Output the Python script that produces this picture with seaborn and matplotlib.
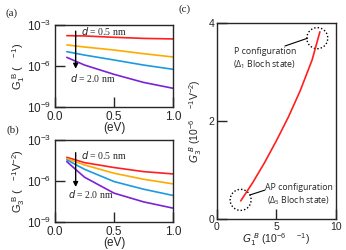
import numpy as np
import pandas as pd
import matplotlib
matplotlib.use("Agg")
import matplotlib.pyplot as plt
from matplotlib.patches import Ellipse
import seaborn as sns

# Data (log10 values for panels a and b)
energy = [0.1, 0.25, 0.5, 0.75, 1.0]
thickness = ["0.5", "1.0", "1.5", "2.0"]
g1_log = {
    "0.5": [-3.78, -3.80, -3.90, -3.98, -4.02],
    "1.0": [-4.46, -4.61, -4.83, -5.10, -5.34],
    "1.5": [-4.95, -5.20, -5.56, -5.93, -6.24],
    "2.0": [-5.37, -5.93, -6.61, -7.20, -7.63],
}
g3_log = {
    "0.5": [-4.27, -4.66, -5.02, -5.32, -5.49],
    "1.0": [-4.37, -4.83, -5.44, -5.88, -6.22],
    "1.5": [-4.46, -5.15, -6.05, -6.61, -7.07],
    "2.0": [-4.59, -5.73, -6.90, -7.54, -8.00],
}
g1_c = [2.0, 3.0, 4.0, 5.0, 6.0, 7.0, 8.0, 8.65]
g3_c = [0.37, 0.74, 1.15, 1.6, 2.08, 2.62, 3.25, 3.82]

colors = ["#ff1f1f", "#ffaa00", "#1b9ae2", "#7a22d4"]

sns.set_style("ticks")
plt.rcParams['font.family'] = ['Liberation Sans', 'DejaVu Sans']
plt.rcParams['mathtext.default'] = 'regular'
plt.rcParams['axes.linewidth'] = 1.0

fig = plt.figure(figsize=(3.46, 2.5), dpi=100)
ax_a = fig.add_axes([0.159, 0.572, 0.341, 0.328])
ax_b = fig.add_axes([0.159, 0.113, 0.341, 0.327])
ax_c = fig.add_axes([0.627, 0.124, 0.344, 0.784])


def long_df(d):
    rows = []
    for k in thickness:
        for x, v in zip(energy, d[k]):
            rows.append({"E": x, "G": 10 ** v, "d": k})
    return pd.DataFrame(rows)


def style_log(ax):
    ax.set_yscale("log")
    ax.set_xlim(0, 1)
    ax.set_ylim(1e-9, 1e-3)
    ax.set_xticks([0, 0.5, 1.0])
    ax.set_xticklabels(["0.0", "0.5", "1.0"])
    ax.set_yticks([1e-9, 1e-6, 1e-3])
    ax.yaxis.set_minor_locator(matplotlib.ticker.NullLocator())
    ax.tick_params(direction="in", length=7, width=1, labelsize=8.5, pad=3)
    ax.set_xlabel("(eV)", fontsize=8.5, labelpad=-1)
    leg = ax.get_legend()
    if leg is not None:
        leg.remove()


for ax, d in [(ax_a, g1_log), (ax_b, g3_log)]:
    sns.lineplot(data=long_df(d), x="E", y="G", hue="d", palette=colors,
                 linewidth=1.2, ax=ax)
    style_log(ax)

ax_a.set_ylabel("G$_1^{\\ B}$ (   $^{-1}$)", fontsize=8, labelpad=0)
ax_b.set_ylabel("G$_3^{\\ B}$ (   $^{-1}$V$^{-2}$)", fontsize=8, labelpad=0)

# annotations in (a) and (b)
for ax, top, bot, t1, t2 in [(ax_a, (0.175, 10 ** -3.45), (0.175, 10 ** -6.2),
                              (0.22, 10 ** -3.44), (0.127, 10 ** -6.9)),
                             (ax_b, (0.175, 10 ** -3.93), (0.175, 10 ** -6.45),
                              (0.22, 10 ** -4.1), (0.107, 10 ** -6.95))]:
    ax.annotate("", xy=bot, xytext=top,
                arrowprops=dict(arrowstyle="-|>", color="black", lw=1.0,
                                mutation_scale=7, shrinkA=0, shrinkB=0))
    ax.text(t1[0], t1[1], "$\\it{d}$ = 0.5 nm", fontsize=7, va="center",
            family="Liberation Serif")
    ax.text(t2[0], t2[1], "$\\it{d}$ = 2.0 nm", fontsize=7, va="center",
            family="Liberation Serif")

# panel (c)
sns.lineplot(x=g1_c, y=g3_c, color="#ff1f1f", linewidth=1.2, ax=ax_c)
ax_c.set_xlim(0, 10)
ax_c.set_ylim(0, 4)
ax_c.set_xticks([0, 5, 10])
ax_c.set_yticks([0, 2, 4])
ax_c.tick_params(direction="in", length=7, width=1, labelsize=7.5, pad=2)
ax_c.set_xlabel("$\\it{G}_1^{\\ B}$ (10$^{-6}$    $^{-1}$)", fontsize=7.5, labelpad=-0.5)
ax_c.set_ylabel("$\\it{G}_3^{\\ B}$ (10$^{-6}$    $^{-1}$V$^{-2}$)", fontsize=7.5, labelpad=3)

for cx, cy in [(8.43, 3.69), (1.99, 0.39)]:
    ax_c.add_patch(Ellipse((cx, cy), 1.76, 0.43, fill=False, ec="black",
                           lw=1.0, ls=(0, (1, 1.5))))
ax_c.plot([5.71, 7.62], [3.53, 3.69], color="black", lw=0.8)
ax_c.plot([4.03, 2.77], [0.59, 0.49], color="black", lw=0.8)
ax_c.text(4.03, 3.27, "P configuration\n($\\Delta_1$ Bloch state)", fontsize=6.3,
          ha="center", va="center", family="Open Sans", linespacing=1.3)
ax_c.text(6.87, 0.49, "AP configuration\n($\\Delta_5$ Bloch state)", fontsize=6.3,
          ha="center", va="center", family="Open Sans", linespacing=1.3)

# panel labels
fig.text(12 / 346, 1 - 13 / 250, "(a)", fontsize=8, family="Liberation Serif", ha="center", va="center")
fig.text(13 / 346, 1 - 130 / 250, "(b)", fontsize=8, family="Liberation Serif", ha="center", va="center")
fig.text(185 / 346, 1 - 9 / 250, "(c)", fontsize=8, family="Liberation Serif", ha="center", va="center")

fig.savefig("out.png", dpi=100)
